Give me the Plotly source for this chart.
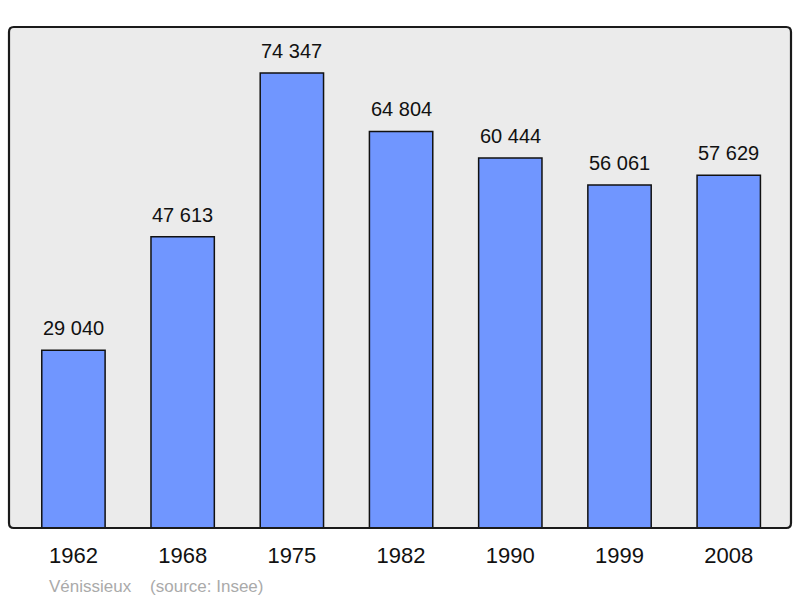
import plotly.graph_objects as go

years = ["1962", "1968", "1975", "1982", "1990", "1999", "2008"]
population = [29040, 47613, 74347, 64804, 60444, 56061, 57629]
labels = ["29 040", "47 613", "74 347", "64 804", "60 444", "56 061", "57 629"]

fig = go.Figure()
fig.add_trace(go.Bar(
    x=years, y=population,
    marker=dict(color="#7096ff", line=dict(color="#111111", width=1.5)),
    width=0.58,
    hoverinfo="skip",
))
for i, (v, lab) in enumerate(zip(population, labels)):
    fig.add_annotation(x=i, y=v, text=lab, showarrow=False, yanchor="bottom",
                       yshift=9, font=dict(family="Liberation Sans, Arial", size=20, color="#111"))

# rounded frame around the plot area
fig.add_shape(type="path", xref="paper", yref="paper",
              path="M 0.006,0 L 0.994,0 Q 1,0 1,0.01 L 1,0.99 Q 1,1 0.994,1 L 0.006,1 Q 0,1 0,0.99 L 0,0.01 Q 0,0 0.006,0 Z",
              line=dict(color="#1a1a1a", width=2.2), layer="above")

fig.add_annotation(xref="paper", yref="paper", x=0.049, y=-0.094, xanchor="left", yanchor="top",
                   text="Vénissieux&nbsp;&nbsp;&nbsp;&nbsp;(source: Insee)", showarrow=False,
                   font=dict(family="Liberation Sans, Arial", size=17, color="#aaaaaa"))

fig.update_layout(
    width=800, height=598,
    margin=dict(l=9, r=9, t=27, b=70),
    paper_bgcolor="white",
    plot_bgcolor="#ebebeb",
    showlegend=False,
    xaxis=dict(type="category", range=[-0.59, 6.57], showgrid=False, zeroline=False, ticks="",
               tickfont=dict(family="Liberation Sans, Arial", size=22, color="#111"),
               ticklabelstandoff=12),
    yaxis=dict(range=[0, 81870], showgrid=False, zeroline=False, showticklabels=False),
    font=dict(family="Liberation Sans, Arial"),
)
fig.write_html("out.html", config={"displayModeBar": False},
               post_script="document.body.style.margin='0';document.body.style.overflow='hidden';")
